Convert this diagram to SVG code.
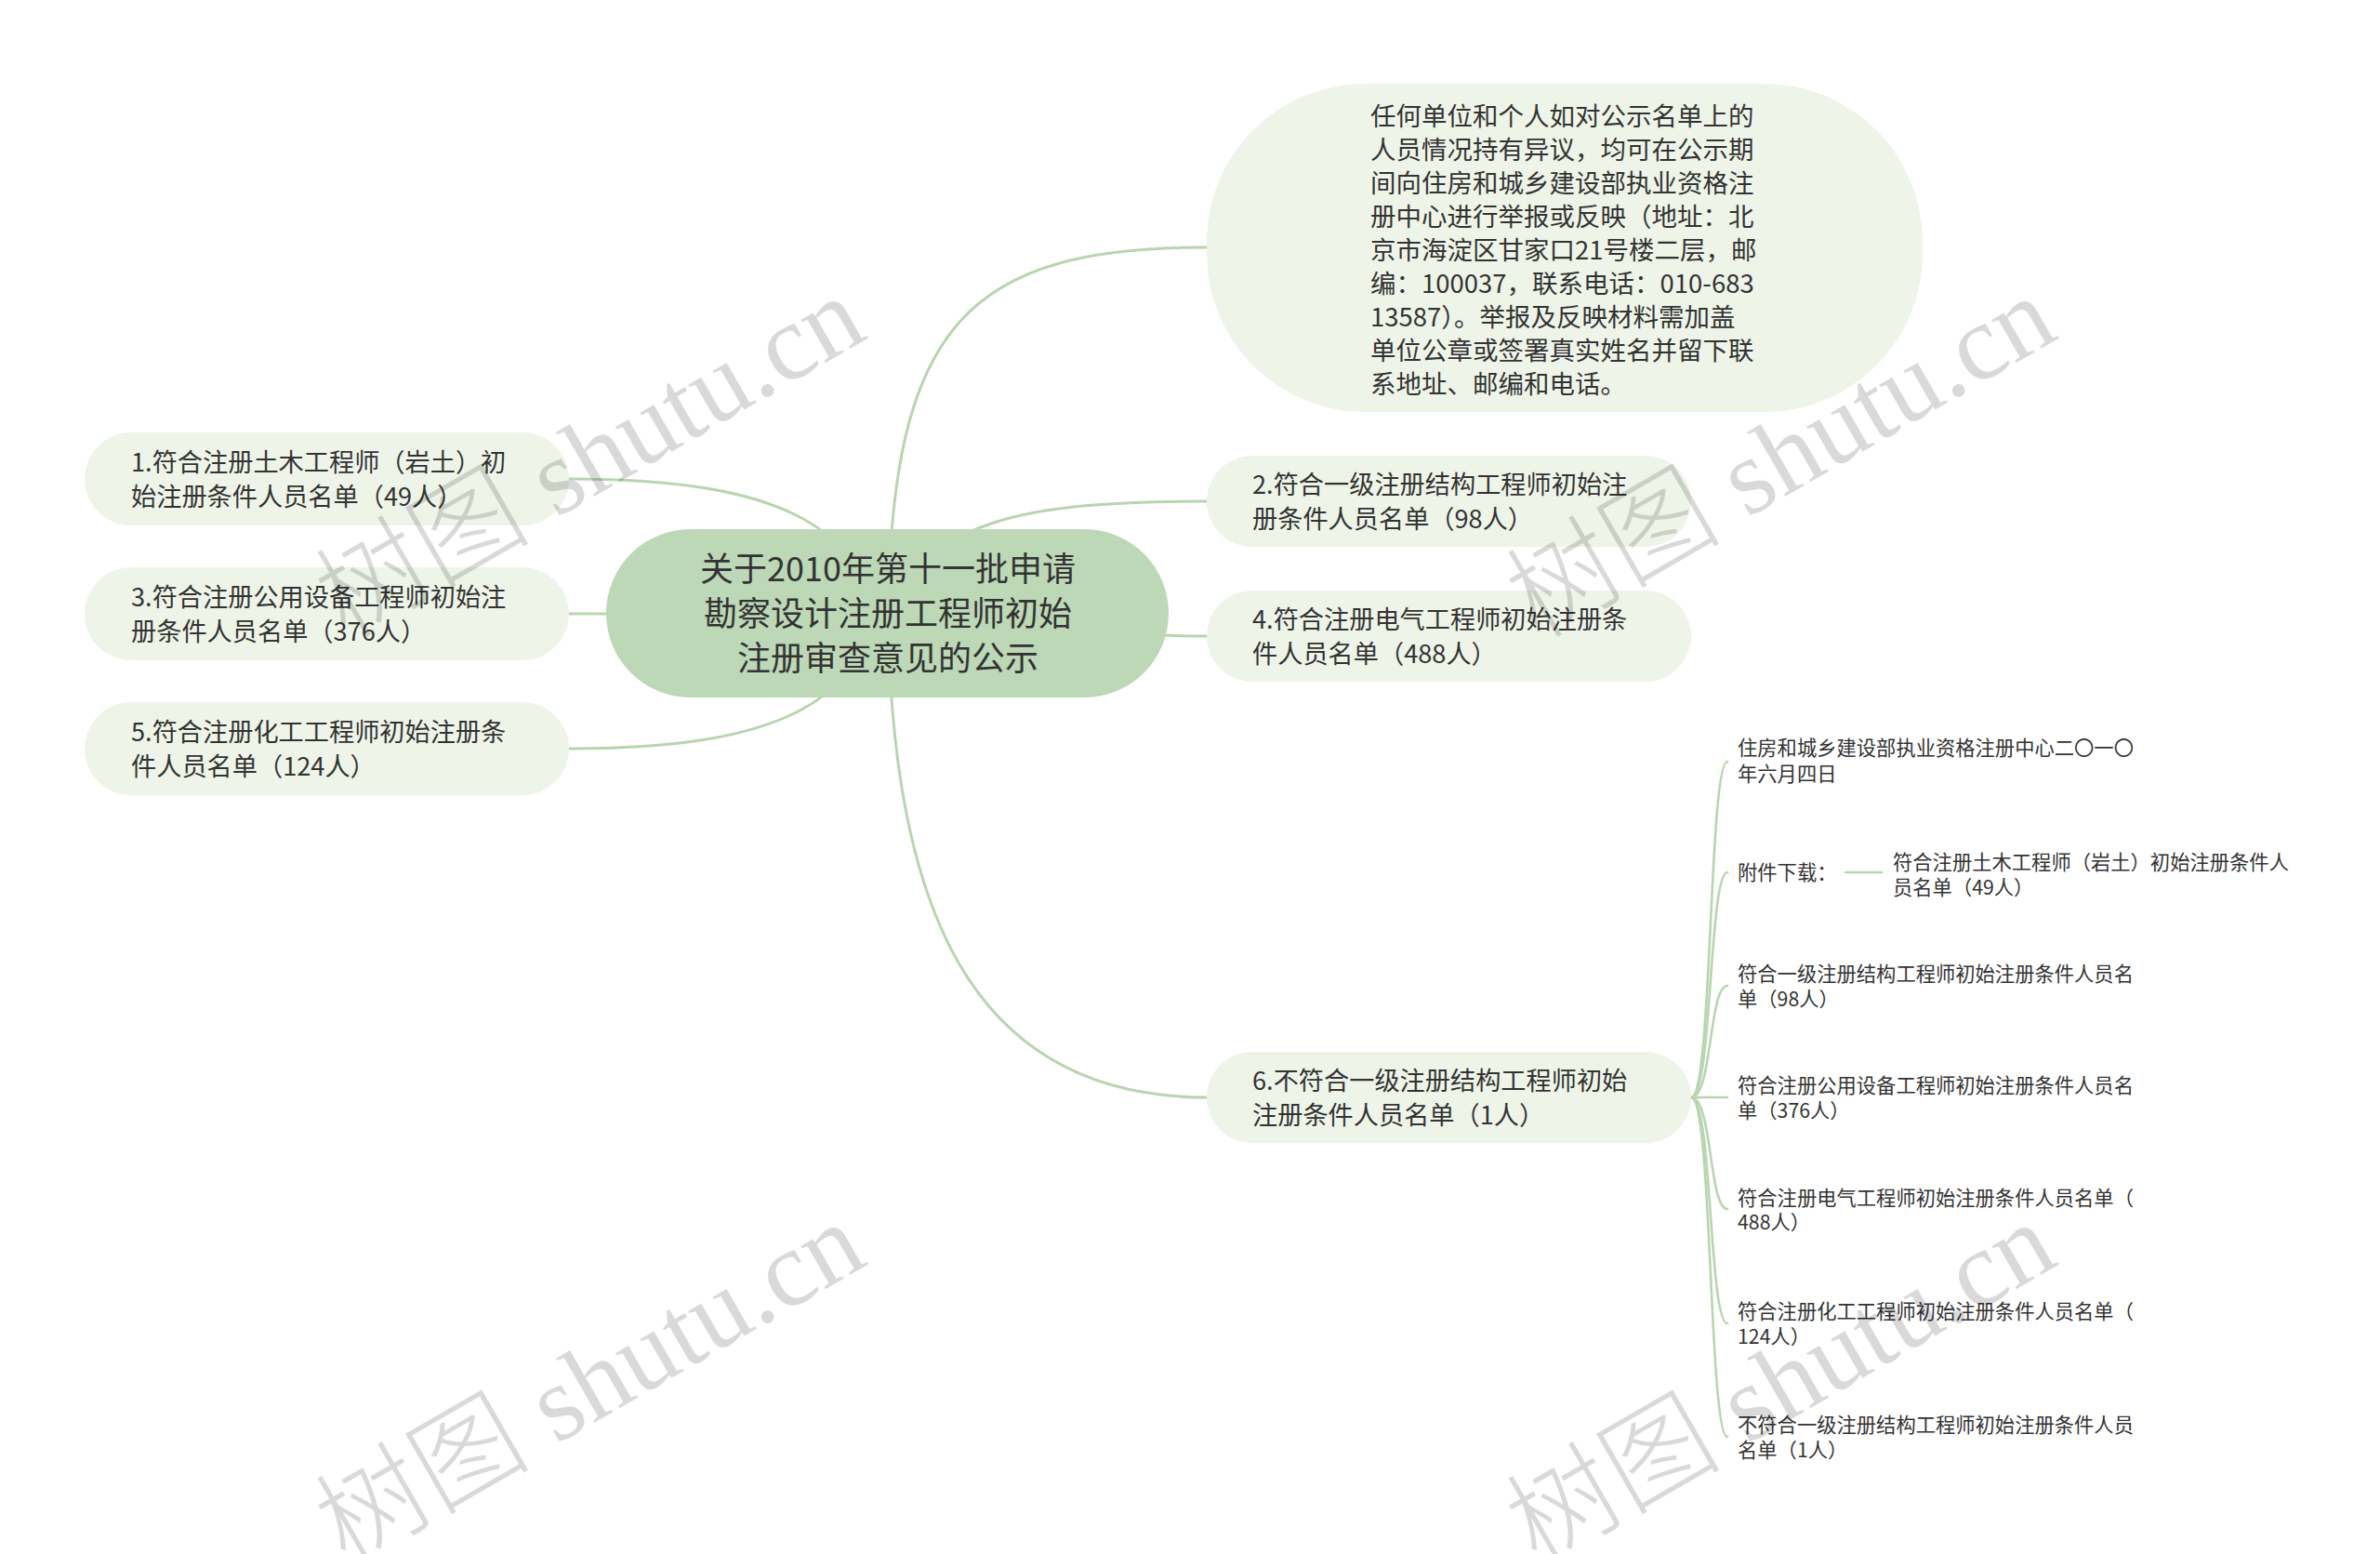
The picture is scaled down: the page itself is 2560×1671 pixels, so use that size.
<svg xmlns="http://www.w3.org/2000/svg" width="2560" height="1671" viewBox="0 0 2560 1671">
<style>
.edge{fill:none;stroke:#b8d5b0;stroke-width:3;stroke-linecap:round}
.edge2{fill:none;stroke:#b8d5b0;stroke-width:2.6;stroke-linecap:round}
.n1{fill:#eef5e8}
.root{fill:#bcd8b6}
.t{font-family:"Noto Sans CJK SC","Noto Sans",sans-serif;fill:#333333}
.t1{font-size:27.2px}
.tb{font-size:27.5px}
.tr{font-size:36px}
.ts{font-size:21.3px}
.wm{font-size:116px;fill:#000000;fill-opacity:0.15}
.wmc{font-family:"Noto Sans CJK SC",sans-serif;font-weight:300}
.wml{font-family:"Liberation Serif",serif}
</style>
<rect x="0" y="0" width="2560" height="1671" fill="#ffffff"/>
<g id="connectors">
<path class="edge" d="M955,660 C960,350 1040,266 1298,266"/>
<path class="edge" d="M955,660 C1000,560 1100,539 1298,539"/>
<path class="edge" d="M955,660 C1100,660 1150,684 1298,684"/>
<path class="edge" d="M955,660 C960,970 1040,1180 1298,1180"/>
<path class="edge" d="M955,660 C910,570 850,515 612,515"/>
<path class="edge" d="M955,660 L612,660"/>
<path class="edge" d="M955,660 C910,750 850,805 612,805"/>
<path class="edge2" d="M1819,1180 C1842,1180 1838,819 1858,819"/>
<path class="edge2" d="M1819,1180 C1842,1180 1838,938 1858,938"/>
<path class="edge2" d="M1819,1180 C1842,1180 1838,1060 1858,1060"/>
<path class="edge2" d="M1819,1180 L1858,1180"/>
<path class="edge2" d="M1819,1180 C1842,1180 1838,1300 1858,1300"/>
<path class="edge2" d="M1819,1180 C1842,1180 1838,1423 1858,1423"/>
<path class="edge2" d="M1819,1180 C1842,1180 1838,1545 1858,1545"/>
<path class="edge2" d="M1985,938 L2024,938"/>
</g>
<g id="root">
<rect class="root" x="652" y="569" width="605" height="181" rx="90.5"/>
<text class="t tr" text-anchor="middle"><tspan x="955" y="625">关于2010年第十一批申请</tspan><tspan x="955" y="673">勘察设计注册工程师初始</tspan><tspan x="955" y="721">注册审查意见的公示</tspan></text>
</g>
<g id="node-notice">
<rect class="n1" x="1298" y="90" width="770" height="353" rx="170"/>
<text class="t tb"><tspan x="1474" y="135">任何单位和个人如对公示名单上的</tspan><tspan x="1474" y="171">人员情况持有异议，均可在公示期</tspan><tspan x="1474" y="207">间向住房和城乡建设部执业资格注</tspan><tspan x="1474" y="243">册中心进行举报或反映（地址：北</tspan><tspan x="1474" y="279">京市海淀区甘家口21号楼二层，邮</tspan><tspan x="1474" y="315">编：100037，联系电话：010-683</tspan><tspan x="1474" y="351">13587）。举报及反映材料需加盖</tspan><tspan x="1474" y="387">单位公章或签署真实姓名并留下联</tspan><tspan x="1474" y="423">系地址、邮编和电话。</tspan></text>
</g>
<g id="node-1">
<rect class="n1" x="91" y="465" width="521" height="100" rx="50"/>
<text class="t t1"><tspan x="141" y="507">1.符合注册土木工程师（岩土）初</tspan><tspan x="141" y="544">始注册条件人员名单（49人）</tspan></text>
</g>
<g id="node-3">
<rect class="n1" x="91" y="610" width="521" height="100" rx="50"/>
<text class="t t1"><tspan x="141" y="652">3.符合注册公用设备工程师初始注</tspan><tspan x="141" y="689">册条件人员名单（376人）</tspan></text>
</g>
<g id="node-5">
<rect class="n1" x="91" y="755" width="521" height="100" rx="50"/>
<text class="t t1"><tspan x="141" y="797">5.符合注册化工工程师初始注册条</tspan><tspan x="141" y="834">件人员名单（124人）</tspan></text>
</g>
<g id="node-2">
<rect class="n1" x="1298" y="490" width="521" height="98" rx="49"/>
<text class="t t1"><tspan x="1347" y="531">2.符合一级注册结构工程师初始注</tspan><tspan x="1347" y="568">册条件人员名单（98人）</tspan></text>
</g>
<g id="node-4">
<rect class="n1" x="1298" y="635" width="521" height="98" rx="49"/>
<text class="t t1"><tspan x="1347" y="676">4.符合注册电气工程师初始注册条</tspan><tspan x="1347" y="713">件人员名单（488人）</tspan></text>
</g>
<g id="node-6">
<rect class="n1" x="1298" y="1131" width="521" height="98" rx="49"/>
<text class="t t1"><tspan x="1347" y="1172">6.不符合一级注册结构工程师初始</tspan><tspan x="1347" y="1209">注册条件人员名单（1人）</tspan></text>
</g>
<g id="leaf-a">
<text class="t ts"><tspan x="1869" y="812">住房和城乡建设部执业资格注册中心二〇一〇</tspan><tspan x="1869" y="840">年六月四日</tspan></text>
</g>
<g id="leaf-b">
<text class="t ts"><tspan x="1869" y="946">附件下载：</tspan></text>
</g>
<g id="leaf-b1">
<text class="t ts"><tspan x="2036" y="935">符合注册土木工程师（岩土）初始注册条件人</tspan><tspan x="2036" y="962">员名单（49人）</tspan></text>
</g>
<g id="leaf-c">
<text class="t ts"><tspan x="1869" y="1055">符合一级注册结构工程师初始注册条件人员名</tspan><tspan x="1869" y="1082">单（98人）</tspan></text>
</g>
<g id="leaf-d">
<text class="t ts"><tspan x="1869" y="1175">符合注册公用设备工程师初始注册条件人员名</tspan><tspan x="1869" y="1202">单（376人）</tspan></text>
</g>
<g id="leaf-e">
<text class="t ts"><tspan x="1869" y="1296">符合注册电气工程师初始注册条件人员名单（</tspan><tspan x="1869" y="1322">488人）</tspan></text>
</g>
<g id="leaf-f">
<text class="t ts"><tspan x="1869" y="1418">符合注册化工工程师初始注册条件人员名单（</tspan><tspan x="1869" y="1445">124人）</tspan></text>
</g>
<g id="leaf-g">
<text class="t ts"><tspan x="1869" y="1540">不符合一级注册结构工程师初始注册条件人员</tspan><tspan x="1869" y="1567">名单（1人）</tspan></text>
</g>
<g id="watermarks" class="wm">
<text transform="translate(372,688) rotate(-30)"><tspan class="wmc">树图</tspan><tspan class="wml"> shutu.cn</tspan></text>
<text transform="translate(1653,688) rotate(-30)"><tspan class="wmc">树图</tspan><tspan class="wml"> shutu.cn</tspan></text>
<text transform="translate(372,1684) rotate(-30)"><tspan class="wmc">树图</tspan><tspan class="wml"> shutu.cn</tspan></text>
<text transform="translate(1653,1684) rotate(-30)"><tspan class="wmc">树图</tspan><tspan class="wml"> shutu.cn</tspan></text>
</g>
</svg>
